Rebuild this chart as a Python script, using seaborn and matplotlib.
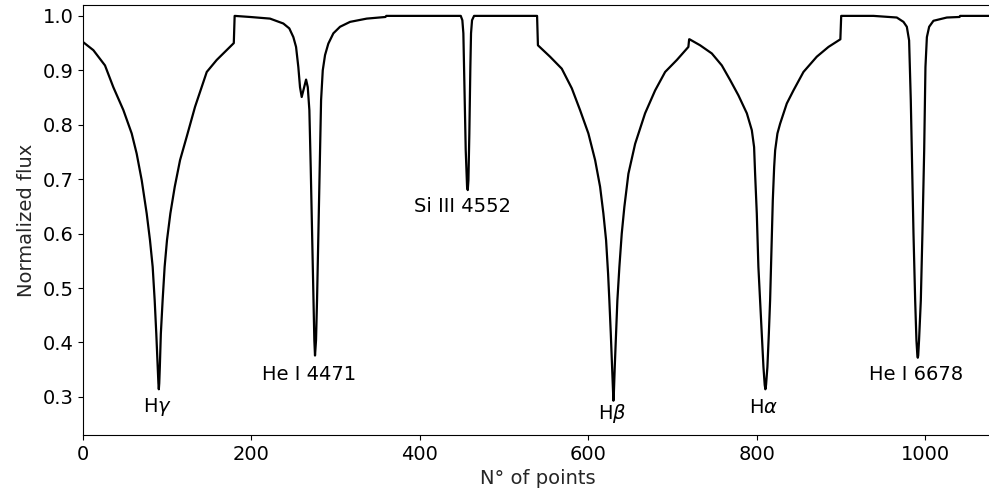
import matplotlib
matplotlib.use("Agg")
import matplotlib.pyplot as plt
import pandas as pd
import seaborn as sns

# Concatenated normalized line profiles, 180 points per line window.
hgamma_x = [0, 12.3, 26.1, 36, 47.9, 57.8, 63.7, 69.7, 75.6, 79.5, 82.7, 85.1, 87, 88.7, 89.5, 90, 90.5,
            91.2, 92.4, 94.5, 96.9, 99.7, 103.7, 108.9, 115.2, 123.1, 133, 146.9, 158.7, 166.6, 179]
hgamma_y = [0.952, 0.937, 0.909, 0.869, 0.827, 0.784, 0.747, 0.698, 0.637, 0.588, 0.539, 0.477, 0.416, 0.355, 0.325, 0.314, 0.325,
            0.355, 0.416, 0.477, 0.539, 0.588, 0.637, 0.686, 0.735, 0.778, 0.833, 0.897, 0.919, 0.931, 0.950]

hei4471_x = [180, 198.3, 222, 237.8, 244.9, 249.7, 252.9, 255.6, 257.6, 259.6, 261.6, 264.8, 266.8, 268.7, 270.3, 271.9,
             273.4, 274.6, 275.4, 276.6, 277.8, 279.4, 281, 282.6, 284.6, 287.3, 291.2, 297.2, 305.1, 317, 336.8, 359]
hei4471_y = [1.000, 0.998, 0.995, 0.986, 0.977, 0.961, 0.943, 0.906, 0.869, 0.851, 0.863, 0.883, 0.869, 0.827, 0.722, 0.600,
             0.477, 0.404, 0.376, 0.404, 0.477, 0.600, 0.722, 0.845, 0.900, 0.928, 0.949, 0.968, 0.980, 0.989, 0.995, 0.998]

siiii_x = [360, 448.4, 450.3, 451.5, 452.7, 454.3, 455.9, 456.7, 457.5, 458.6, 459.8, 460.6, 461.8, 464.2, 539]
siiii_y = [1.000, 1.000, 0.992, 0.968, 0.876, 0.753, 0.686, 0.680, 0.698, 0.784, 0.906, 0.968, 0.992, 1.000, 1.000]

hbeta_x = [540, 554.4, 568.3, 580.2, 590, 599.9, 607.9, 613.8, 617.7, 620.9, 623.3, 624.8, 626.5, 628, 629.1, 629.6, 630.1,
           631.2, 632.8, 634.3, 636.7, 639.5, 642.6, 647.4, 655.4, 667.2, 679.1, 691, 704.9, 718.6, 719.5]
hbeta_y = [0.946, 0.925, 0.903, 0.867, 0.827, 0.784, 0.735, 0.686, 0.637, 0.588, 0.526, 0.477, 0.416, 0.355, 0.305, 0.293, 0.305,
           0.355, 0.416, 0.477, 0.539, 0.600, 0.649, 0.710, 0.765, 0.821, 0.863, 0.897, 0.919, 0.943, 0.957]

halpha_x = [720, 732.5, 746.4, 758.3, 768.2, 778, 788, 793.9, 796.6, 797.8, 799.8, 801.7, 803.7, 805.7, 807.7, 809.2, 810, 810.8,
            812.4, 814.1, 815.6, 817.2, 818.8, 820.4, 821.6, 824.3, 827.5, 835.4, 843.3, 855.2, 871, 884.9, 899]
halpha_y = [0.957, 0.946, 0.931, 0.909, 0.882, 0.854, 0.821, 0.790, 0.759, 0.710, 0.637, 0.539, 0.477, 0.416, 0.355, 0.322, 0.314, 0.322,
            0.355, 0.416, 0.477, 0.569, 0.661, 0.722, 0.753, 0.784, 0.802, 0.839, 0.863, 0.897, 0.925, 0.943, 0.957]

hei6678_x = [900, 938.3, 966, 973.9, 977.9, 980.6, 982.6, 984.2, 985.8, 987.8, 989.3, 990.4, 990.9, 991.4, 992.4, 994.5,
             996.4, 998.5, 1000, 1001.7, 1004.4, 1009.5, 1025.4, 1040.5, 1041.2, 1079]
hei6678_y = [1.000, 1.000, 0.997, 0.989, 0.980, 0.955, 0.845, 0.722, 0.600, 0.477, 0.404, 0.376, 0.372, 0.376, 0.404, 0.477,
             0.600, 0.753, 0.906, 0.961, 0.980, 0.991, 0.997, 0.998, 1.000, 1.000]

line_names = ["H$\\gamma$", "He I 4471", "Si III 4552", "H$\\beta$", "H$\\alpha$", "He I 6678"]
label_x = [88, 268, 450, 628, 808.5, 989]
label_y = [0.281, 0.341, 0.650, 0.270, 0.281, 0.341]

df = pd.DataFrame({
    "point": hgamma_x + hei4471_x + siiii_x + hbeta_x + halpha_x + hei6678_x,
    "flux": hgamma_y + hei4471_y + siiii_y + hbeta_y + halpha_y + hei6678_y,
})

sns.set_style("ticks")
plt.rcParams["font.family"] = ["DejaVu Sans"]

fig = plt.figure(figsize=(9.89, 4.91), dpi=100)
ax = fig.add_axes([83 / 989, 56 / 491, 909 / 989, 430 / 491])

sns.lineplot(data=df, x="point", y="flux", estimator=None, sort=False,
             color="black", linewidth=1.6, ax=ax)

for name, tx, ty in zip(line_names, label_x, label_y):
    ax.text(tx, ty, name, ha="center", va="center", fontsize=14, color="black")

ax.set_xlim(0, 1079)
ax.set_ylim(0.23, 1.02)
ax.set_xticks([0, 200, 400, 600, 800, 1000])
ax.set_yticks([0.3, 0.4, 0.5, 0.6, 0.7, 0.8, 0.9, 1.0])
ax.set_xlabel("N° of points", fontsize=14, labelpad=4)
ax.set_ylabel("Normalized flux", fontsize=14, labelpad=4.5)
ax.tick_params(axis="both", labelsize=14, length=3.5, width=0.8, colors="black")
for sp in ax.spines.values():
    sp.set_color("black")
    sp.set_linewidth(0.8)

fig.savefig("out.png", dpi=100)
